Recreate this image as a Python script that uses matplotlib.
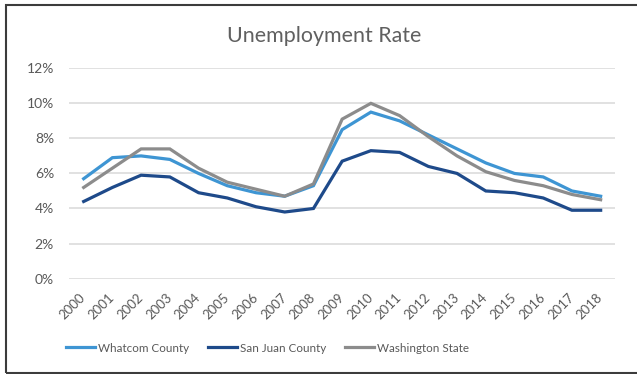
import numpy as np
import matplotlib
matplotlib.use('Agg')
import matplotlib.pyplot as plt
from matplotlib.patches import Rectangle

plt.rcParams['font.family'] = ['Lato', 'DejaVu Sans']

years = [str(y) for y in range(2000, 2019)]
whatcom = [5.7, 6.9, 7.0, 6.8, 6.0, 5.3, 4.9, 4.7, 5.3, 8.5, 9.5, 9.0, 8.2, 7.4, 6.6, 6.0, 5.8, 5.0, 4.7]
san_juan = [4.4, 5.2, 5.9, 5.8, 4.9, 4.6, 4.1, 3.8, 4.0, 6.7, 7.3, 7.2, 6.4, 6.0, 5.0, 4.9, 4.6, 3.9, 3.9]
washington = [5.2, 6.3, 7.4, 7.4, 6.3, 5.5, 5.1, 4.7, 5.4, 9.1, 10.0, 9.3, 8.1, 7.0, 6.1, 5.6, 5.3, 4.8, 4.5]
yticks = [0, 2, 4, 6, 8, 10, 12]

text_gray = '#595959'

fig = plt.figure(figsize=(6.37, 3.74), dpi=100)
ax = fig.add_axes([0.1088, 0.2551, 0.8567, 0.5623])

x = np.arange(len(years))
ax.plot(x, whatcom, color='#3E95D3', linewidth=2.3, label='Whatcom County', solid_joinstyle='miter')
ax.plot(x, san_juan, color='#1E4A8A', linewidth=2.3, label='San Juan County', solid_joinstyle='miter')
ax.plot(x, washington, color='#8C8C8C', linewidth=2.3, label='Washington State', solid_joinstyle='miter')

ax.set_xlim(-0.5, len(years) - 0.5)
ax.set_ylim(0, 12)
ax.set_yticks(yticks)
ax.set_yticklabels(['{}%'.format(v) for v in yticks])
ax.set_xticks(x)
ax.set_xticklabels(years, rotation=45, ha='right', va='center', rotation_mode='anchor')
ax.tick_params(axis='both', length=0, labelcolor=text_gray)
ax.tick_params(axis='y', pad=11, labelsize=10)
ax.tick_params(axis='x', pad=12, labelsize=9.5)
ax.grid(True, axis='y', color='#D9D9D9', linewidth=1.1)
ax.set_axisbelow(True)
for s in ax.spines.values():
    s.set_visible(False)

fig.text(0.509, 0.8885, 'Unemployment Rate', ha='center', va='baseline',
         fontsize=15.4, color='#606060')

fig.legend(loc='center', bbox_to_anchor=(0.42, 1 - 348 / 374), ncol=3, frameon=False,
           fontsize=8.4, labelcolor=text_gray, handlelength=2.5, handletextpad=0.25,
           columnspacing=1.6)

# outer chart frame
fig.patches.append(Rectangle((6 / 637, 1.5 / 374), 1.0, 1 - 6.2 / 374, transform=fig.transFigure,
                             fill=False, edgecolor='#3C3C3C', linewidth=1.5))

fig.savefig('out.png', dpi=100)
